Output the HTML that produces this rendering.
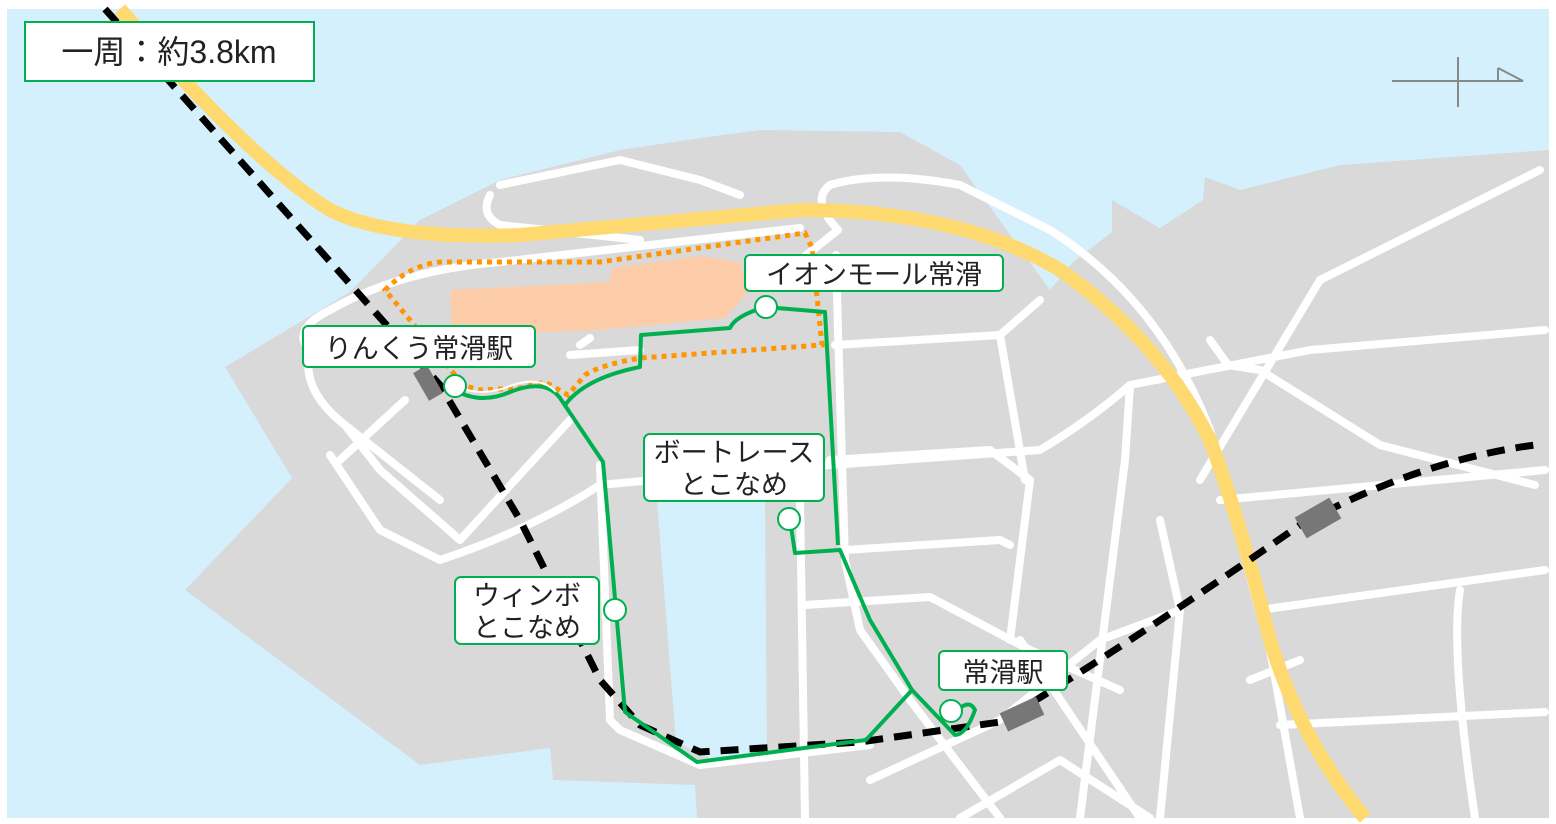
<!DOCTYPE html>
<html><head><meta charset="utf-8"><style>
html,body{margin:0;padding:0;background:#fff;}
svg{display:block}
text{font-family:"Liberation Sans","Noto Sans CJK JP",sans-serif;fill:#222}
</style></head><body>
<svg width="1556" height="824" viewBox="0 0 1556 824" xmlns="http://www.w3.org/2000/svg">
<rect x="7" y="9" width="1542" height="809" fill="#d5f0fd"/>
<!-- land -->
<polygon fill="#d9d9d9" points="225,367 350,292 420,220 500,180 620,150 700,138 760,130 900,132 960,165 1050,290 1073,262 1112,232 1112,200 1160,228 1203,200 1205,177 1240,190 1340,165 1549,150 1549,818 697,818 695,785 553,780 550,748 420,765 185,590 292,478"/>
<!-- lake -->
<polygon fill="#d5f0fd" points="657,500 765,500 767,762 718,762 676,742"/>
<!-- orange building -->
<polygon fill="#fccda8" points="450,290 610,282 612,268 700,256 740,262 748,292 725,318 600,330 470,335 452,333"/>
<!-- white roads -->
<g fill="none" stroke="#fff" stroke-width="8" stroke-linecap="round" stroke-linejoin="round">
<path d="M310,350 Q290,330 330,310 Q400,270 500,262 L800,228"/>
<path d="M310,350 Q300,390 345,425 L440,500"/>
<path d="M340,460 L405,400 M345,425 L380,470 L460,540 L570,420"/>
<path d="M330,455 L380,530 L440,560"/>
<path d="M440,560 Q530,530 600,485 L760,470 L1040,450 Q1090,420 1130,385 L1310,350 L1545,330"/>
<path d="M830,460 L990,450 L1030,480 L1010,640"/>
<path d="M800,260 L838,230 Q810,200 830,185 Q880,170 960,185 L1050,230 Q1160,300 1210,430 L1270,650 L1300,818"/>
<path d="M836,255 L838,330 L845,560 L860,630 L910,700 L1000,818"/>
<path d="M835,345 L1000,335 L1040,300 M1000,335 L1025,480"/>
<path d="M845,550 L1000,540 L1010,545 M805,605 L930,597 L1030,650 L1120,690"/>
<path d="M1130,385 L1125,460 L1080,818 M1020,640 L1140,818"/>
<path d="M1160,520 L1180,610 L1160,818 M1200,480 L1320,280 L1540,170"/>
<path d="M1210,340 L1228,365 L1260,370 L1380,445 L1535,485"/>
<path d="M1220,500 L1545,470 M1260,610 L1545,570 M1250,680 L1300,660 M1280,725 L1545,712 M1460,590 Q1450,650 1475,818"/>
<path d="M870,780 L1000,720 L1100,640 L1180,610 M960,818 L1060,760 L1150,818"/>
<path d="M600,465 L610,720 L620,730 L700,765 L870,745"/>
<path d="M800,500 L805,818 M490,195 Q480,215 500,225 L640,240 M500,185 L620,160 L700,180 L740,195"/>
<path d="M570,355 L640,350 M580,345 L590,338"/>
</g>
<!-- highway -->
<path d="M120,9 Q250,160 330,210 Q390,240 520,235 L800,210 Q960,210 1060,270 Q1160,340 1210,440 Q1240,520 1270,640 Q1300,740 1365,818" fill="none" stroke="#fed96f" stroke-width="14"/>
<!-- rail -->
<path d="M105,9 L440,385 L520,520 L600,680 L640,725 L700,752 L860,742 L1000,722 Q1120,650 1300,525 Q1420,460 1535,445" fill="none" stroke="#000" stroke-width="7" stroke-dasharray="18,11"/>
<g fill="#777">
<rect x="-8" y="-16" width="16" height="32" transform="translate(428,383) rotate(-30)"/>
<rect x="-20" y="-10" width="40" height="20" transform="translate(1022,714) rotate(-25)"/>
<rect x="-20" y="-12" width="40" height="24" transform="translate(1318,518) rotate(-30)"/>
</g>
<!-- orange dotted -->
<path d="M455,375 L410,320 L385,290 Q410,265 440,262 L600,262 L805,233 L812,248 L822,345 L640,358 Q600,365 585,375 L568,395 L545,382 L520,388 L480,390 L462,385" fill="none" stroke="#ff9500" stroke-width="5" stroke-dasharray="5,5"/>
<!-- green route -->
<g fill="none" stroke="#00b050" stroke-width="4" stroke-linejoin="round">
<path d="M455,390 Q480,405 510,392 Q545,378 560,398 L603,462 L625,712 L697,762 L866,740 L912,690 L955,735 Q966,735 975,710 Q970,700 960,708"/>
<path d="M912,690 L870,620 L840,550 L795,553 L790,520"/>
<path d="M565,405 Q585,378 640,367 L641,335 L730,328 Q735,316 765,307 L825,312 L838,545"/>
</g>
<path d="M457,386 Q480,398 510,386 Q540,375 556,392" fill="none" stroke="#fff" stroke-width="2"/>
<g fill="#fff" stroke="#00b050" stroke-width="2">
<circle cx="455" cy="386" r="11"/><circle cx="766" cy="307" r="11"/><circle cx="789" cy="519" r="11"/><circle cx="615" cy="610" r="11"/><circle cx="951" cy="711" r="11"/>
</g>
<!-- labels -->
<g fill="#fff" stroke="#00b050" stroke-width="2">
<rect x="25" y="22" width="289" height="59"/>
<rect x="745" y="255" width="258" height="36" rx="5"/>
<rect x="303" y="326" width="232" height="41" rx="5"/>
<rect x="644" y="434" width="180" height="67" rx="6"/>
<rect x="455" y="577" width="144" height="67" rx="6"/>
<rect x="939" y="651" width="128" height="39" rx="5"/>
</g>
<g font-size="27" text-anchor="middle">
<text x="169" y="63" font-size="32">一周：約3.8km</text>
<text x="874" y="284">イオンモール常滑</text>
<text x="419" y="358">りんくう常滑駅</text>
<text x="734" y="462">ボートレース</text>
<text x="734" y="494">とこなめ</text>
<text x="527" y="605">ウィンボ</text>
<text x="527" y="637">とこなめ</text>
<text x="1003" y="682">常滑駅</text>
</g>
<!-- north arrow -->
<g stroke="#888" stroke-width="2" fill="none">
<line x1="1392" y1="81" x2="1523" y2="81"/>
<line x1="1458" y1="57" x2="1458" y2="107"/>
<polyline points="1498,68 1523,81 1498,81 1498,68"/>
</g>
</svg>
</body></html>
